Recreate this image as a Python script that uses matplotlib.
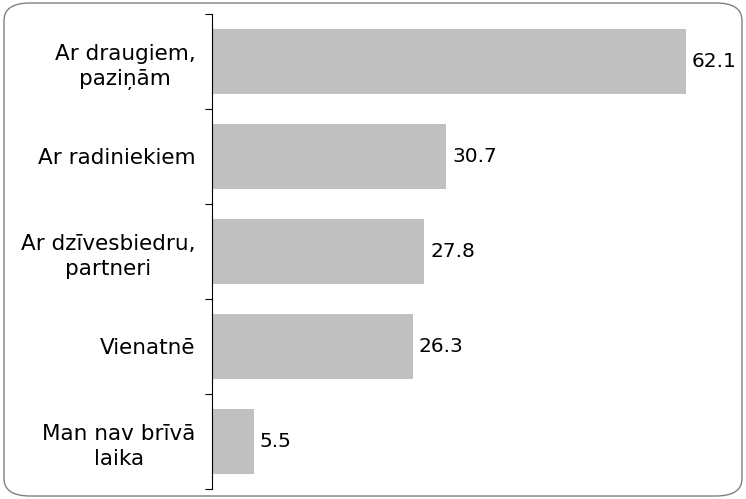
import matplotlib.pyplot as plt
from matplotlib.patches import FancyBboxPatch

categories = ['Ar draugiem,\npaziņām', 'Ar radiniekiem', 'Ar dzīvesbiedru,\npartneri',
              'Vienatnē', 'Man nav brīvā\nlaika']
values = [62.1, 30.7, 27.8, 26.3, 5.5]

fig = plt.figure(figsize=(7.46, 4.99), dpi=100)

# rounded frame around the chart
frame = FancyBboxPatch((4 / 746, 3 / 499), 738 / 746, 493 / 499,
                       boxstyle='round,pad=0,rounding_size=0.035',
                       transform=fig.transFigure, facecolor='white',
                       edgecolor='#808080', linewidth=1.0, zorder=-5)
fig.patches.append(frame)

ax = fig.add_axes([212 / 746, 10 / 499, 530 / 746, 475 / 499])
ax.set_zorder(2)
ax.patch.set_alpha(0)

n = len(categories)
pos = list(range(n))[::-1]
ax.barh(pos, values, height=0.68, color='#c0c0c0')
for p, v in zip(pos, values):
    ax.text(v + 0.75, p, f'{v:.1f}', va='center', ha='left', fontsize=14.5)

ax.set_ylim(-0.5, n - 0.5)
ax.set_xlim(0, 69.4)

# boundary ticks and centred labels
ax.set_yticks([i - 0.5 for i in range(n + 1)])
ax.set_yticklabels([])
ax.tick_params(axis='y', which='major', length=5, direction='out', width=0.8)
ax.set_yticks(pos, minor=True)
ax.set_yticklabels(categories, minor=True, fontsize=15.5, multialignment='center',
                   linespacing=1.35)
ax.tick_params(axis='y', which='minor', length=0, pad=12)

ax.set_xticks([])
for s in ['top', 'right', 'bottom']:
    ax.spines[s].set_visible(False)
ax.spines['left'].set_linewidth(0.8)

fig.savefig('out.png', dpi=100)
